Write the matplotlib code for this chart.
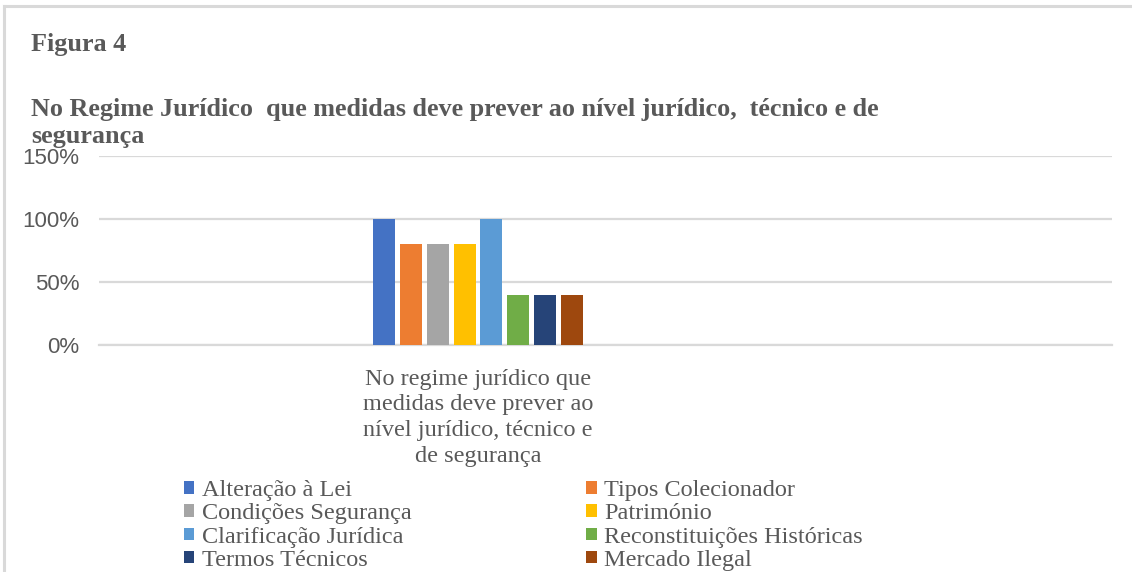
import matplotlib.pyplot as plt
from matplotlib.lines import Line2D
from matplotlib.ticker import PercentFormatter

# dados
series = ['Alteração à Lei', 'Tipos Colecionador', 'Condições Segurança', 'Património',
          'Clarificação Jurídica', 'Reconstituições Históricas', 'Termos Técnicos', 'Mercado Ilegal']
valores = [100, 80, 80, 80, 100, 40, 40, 40]
cores = ['#4472C4', '#ED7D31', '#A5A5A5', '#FFC000', '#5B9BD5', '#70AD47', '#264478', '#9E480E']
categoria = 'No regime jurídico que\nmedidas deve prever ao\nnível jurídico, técnico e\nde segurança'
yticks = [0, 50, 100, 150]

cinza = '#595959'
serif = 'Liberation Serif'

fig = plt.figure(figsize=(11.32, 5.72), dpi=100)

# moldura cinza (esquerda e topo)
fig.add_artist(Line2D([4 / 1132, 4 / 1132], [0, 1 - 6 / 572], color='#d9d9d9', lw=2.2))
fig.add_artist(Line2D([4 / 1132, 1], [1 - 6 / 572, 1 - 6 / 572], color='#d9d9d9', lw=2.2))

ax = fig.add_axes([99 / 1132, 1 - 345 / 572, 1013 / 1132, 189 / 572])

passo = 0.125
largura = 0.102
barras = []
for i, (nome, v, c) in enumerate(zip(series, valores, cores)):
    b = ax.bar((i - 3.5) * passo, v, width=largura, color=c, label=nome, zorder=3)
    barras.append(b)

ax.set_xlim(-1.763, 2.949)
ax.set_ylim(0, 150)
ax.set_yticks(yticks)
ax.yaxis.set_major_formatter(PercentFormatter(decimals=0))
ax.grid(axis='y', color='#d9d9d9', lw=1.6, zorder=0)
ax.tick_params(axis='y', length=0, pad=14, labelsize=16, labelcolor=cinza)
for lab in ax.get_yticklabels():
    lab.set_family('Liberation Sans')
ax.set_xticks([0])
ax.set_xticklabels([categoria], family=serif, fontsize=17.5, color=cinza, linespacing=1.3)
ax.tick_params(axis='x', length=0, pad=17)
for s in ax.spines.values():
    s.set_visible(False)
ax.spines['bottom'].set_visible(True)
ax.spines['bottom'].set_color('#d9d9d9')
ax.spines['bottom'].set_linewidth(1.6)

fig.text(31 / 1132, 1 - 45 / 572, 'Figura 4', family=serif, weight='bold', fontsize=18.8,
         color=cinza, va='center')
fig.text(31 / 1132, 1 - 123 / 572,
         'No Regime Jurídico  que medidas deve prever ao nível jurídico,  técnico e de\nsegurança',
         family=serif, weight='bold', fontsize=18.8, color=cinza, va='center', linespacing=1.2)

# legenda preenchida por linhas (como no Excel)
ordem = [0, 2, 4, 6, 1, 3, 5, 7]
leg = fig.legend([barras[k] for k in ordem], [series[k] for k in ordem],
                 loc='upper left', bbox_to_anchor=(172 / 1132, 1 - 468 / 572), ncol=2,
                 frameon=False, labelspacing=0.09, handlelength=0.42,
                 handleheight=0.42, handletextpad=0.3, columnspacing=7.2,
                 prop={'family': serif, 'size': 17.5}, borderpad=0)
for t in leg.get_texts():
    t.set_color(cinza)

fig.savefig('out.png', dpi=100)
